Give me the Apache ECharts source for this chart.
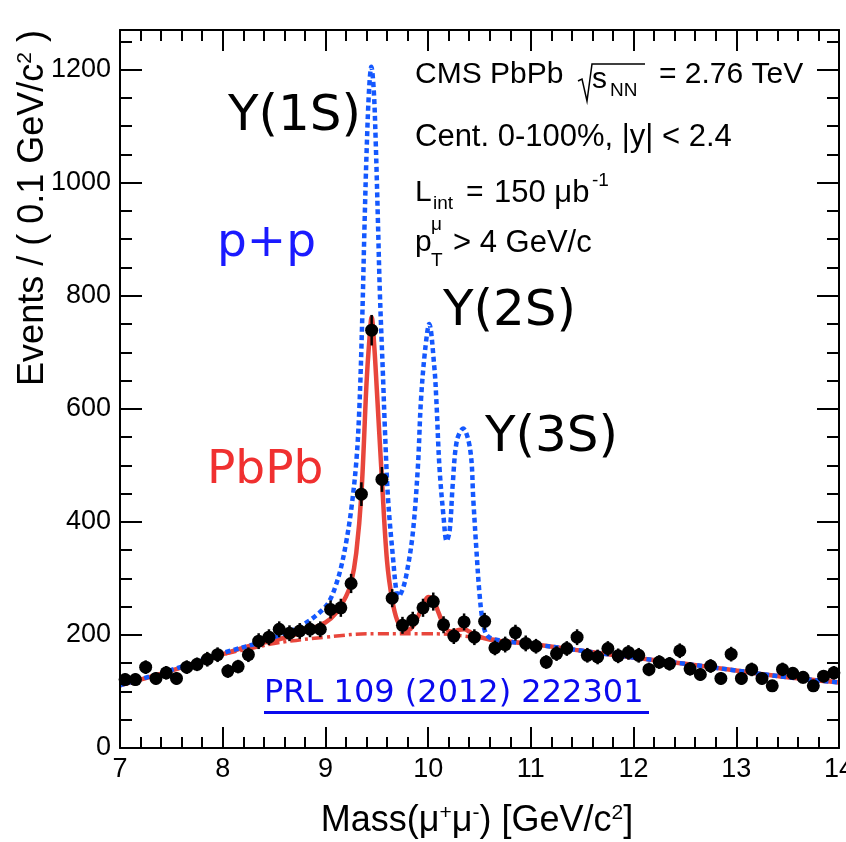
<!DOCTYPE html>
<html>
<head>
<meta charset="utf-8">
<script src="https://cdn.jsdelivr.net/npm/echarts@6/dist/echarts.min.js"></script>
<style>
html,body{margin:0;padding:0;background:#fff;}
#chart{width:846px;height:842px;}
</style>
</head>
<body>
<div id="chart"></div>
<script>
// Bin centres (GeV/c^2), PbPb data counts and their errors
const binCenters = [7.05,7.15,7.25,7.35,7.45,7.55,7.65,7.75,7.85,7.95,
  8.05,8.15,8.25,8.35,8.45,8.55,8.65,8.75,8.85,8.95,
  9.05,9.15,9.25,9.35,9.45,9.55,9.65,9.75,9.85,9.95,
  10.05,10.15,10.25,10.35,10.45,10.55,10.65,10.75,10.85,10.95,
  11.05,11.15,11.25,11.35,11.45,11.55,11.65,11.75,11.85,11.95,
  12.05,12.15,12.25,12.35,12.45,12.55,12.65,12.75,12.85,12.95,
  13.05,13.15,13.25,13.35,13.45,13.55,13.65,13.75,13.85,13.95];
const counts = [121,121,143,123,133,123,143,148,157,165,
  136,144,165,189,196,210,203,207,210,210,
  245,248,291,449,739,475,265,217,226,248,
  259,218,198,223,196,224,177,183,204,185,
  180,152,167,176,196,164,161,176,163,169,
  164,139,152,149,172,140,130,145,123,166,
  123,139,123,110,139,132,125,110,127,133];
const errors = [11,11,12,11,12,11,12,12,13,13,
  12,12,13,14,14,14,14,14,14,14,
  16,16,17,21,27,22,16,15,15,16,
  16,15,14,15,14,15,13,14,14,14,
  13,12,13,13,14,13,13,13,13,13,
  13,12,12,12,13,12,11,12,11,13,
  11,12,11,10,12,11,11,10,11,12];

// Background (dash-dot)
const bgX = [7.0,7.5,8.0,8.35,8.5,9.0,9.5,10.0,10.5,11.0,11.5,12.0,12.5,13.0,13.5,14.0];
const bgY = [111,137,165,179,185,196,202,202,195,184,172,160,149,137,125,116];

// PbPb fit (solid red)
const fitX = [7.0,7.5,8.0,8.35,8.5,8.75,9.0,9.1,9.2,9.25,9.3,9.35,9.4,9.425,9.45,9.475,9.5,9.55,9.6,9.65,9.7,9.75,9.8,9.85,9.9,9.95,10.0,10.05,10.1,10.15,10.2,10.25,10.3,10.35,10.4,10.45,10.55,10.65,11.0,11.5,12.0,12.5,13.0,13.5,14.0];
const fitY = [111,137,166,185,190,203,222,238,268,292,345,449,645,715,762,712,635,475,330,262,225,212,208,215,232,252,267,262,240,218,207,206,209,210,206,200,194,190,184,172,160,149,137,125,116];

// p+p shape (dotted blue)
const ppX = [7.0,7.5,8.0,8.35,8.5,8.7,8.8,8.9,9.0,9.05,9.1,9.15,9.2,9.25,9.3,9.33,9.36,9.38,9.4,9.425,9.447,9.47,9.49,9.51,9.53,9.56,9.58,9.61,9.66,9.69,9.71,9.75,9.79,9.85,9.9,9.93,9.97,10.01,10.06,10.08,10.11,10.15,10.18,10.21,10.24,10.28,10.34,10.41,10.44,10.47,10.5,10.53,10.57,10.65,11.0,11.5,12.0,12.5,13.0,13.5,14.0];
const ppY = [111,138,168,186,196,210,220,233,250,264,287,318,362,420,505,600,770,920,1050,1165,1205,1165,1070,940,805,660,560,440,332,278,268,280,308,379,497,615,703,750,674,615,497,409,366,385,468,544,565,527,438,350,273,226,200,192,184,172,160,149,137,125,116];

const xTicks = {min:7, max:14, interval:1};
const yTicks = {min:0, max:1270, interval:200};

const chart = echarts.init(document.getElementById('chart'), null, {renderer:'canvas'});
const zip = (a,b) => a.map((v,i)=>[v,b[i]]);
const LS = 'Liberation Sans, Arial, Helvetica, sans-serif';
const DV = 'DejaVu Sans, sans-serif';

function axisCommon(pos, showLabels, isX){
  return {
    type:'value', position: pos,
    min: isX?xTicks.min:yTicks.min, max: isX?xTicks.max:yTicks.max, interval: isX?xTicks.interval:yTicks.interval,
    axisLine:{show:true, onZero:false, lineStyle:{color:'#000', width:2}},
    axisTick:{show:true, inside:true, length: isX?21:22, lineStyle:{color:'#000', width:2}},
    minorTick:{show:true, splitNumber: isX?5:4, length: isX?11:12, lineStyle:{color:'#000', width:2}},
    splitLine:{show:false}, minorSplitLine:{show:false},
    axisLabel:{show:showLabels, color:'#000', fontFamily:LS, fontSize:27, margin: isX?8:9,
      showMaxLabel: isX?true:false, formatter: v => String(v)},
    z: 10
  };
}

const text = (x,y,str,size,font,color,extra) => Object.assign({
  type:'text', x:x, y:y, z:20,
  style:{text:str, fontSize:size, fontFamily:font, fill:color||'#000', align:'left', verticalAlign:'middle'}
}, extra||{});

const option = {
  animation:false,
  backgroundColor:'#fff',
  grid:{left:120, right:7, top:30, bottom:94, containLabel:false, outerBoundsMode:'none'},
  xAxis:[axisCommon('bottom', true, true), axisCommon('top', false, true)],
  yAxis:[axisCommon('left', true, false), axisCommon('right', false, false)],
  series:[
    {type:'line', data: zip(bgX,bgY), smooth:0.5, showSymbol:false, symbol:'none',
     lineStyle:{color:'#e8463c', width:3.5, type:[11,4,3,4]}, z:2, clip:true},
    {type:'line', data: zip(fitX,fitY), smooth:0.35, showSymbol:false, symbol:'none',
     lineStyle:{color:'#e8463c', width:4.5}, z:3, clip:true},
    {type:'line', data: zip(ppX,ppY), smooth:0.35, showSymbol:false, symbol:'none',
     lineStyle:{color:'#1458ff', width:4.5, type:[5,3.5]}, z:4, clip:true},
    {type:'custom', data: binCenters.map((x,i)=>[x,counts[i],errors[i]]), encode:{x:0,y:1}, z:5,
     renderItem:function(params, api){
       const x=api.value(0), y=api.value(1), e=api.value(2);
       const p1=api.coord([x,y-e]), p2=api.coord([x,y+e]);
       return {type:'line', shape:{x1:p1[0],y1:p1[1],x2:p2[0],y2:p2[1]}, style:{stroke:'#000', lineWidth:2.5}};
     }},
    {type:'scatter', data: zip(binCenters,counts), symbol:'circle', symbolSize:13,
     itemStyle:{color:'#000', opacity:1}, z:6}
  ],
  graphic:[
    text(228, 117.5, 'Y(1S)', 50, DV, '#000'),
    text(443, 312.5, 'Y(2S)', 50, DV, '#000'),
    text(485, 438.5, 'Y(3S)', 50, DV, '#000'),
    text(217, 243.5, 'p+p', 47, DV, '#1a1aff'),
    text(207, 470.5, 'PbPb', 47, DV, '#f03030'),
    // CMS block
    text(415, 75, 'CMS PbPb', 30, LS),
    {type:'polyline', z:20, shape:{points:[[578,81],[582,79],[587,101],[592,64],[645,64]]}, style:{stroke:'#000', lineWidth:1.5, fill:null}},
    text(592, 80, 's', 30, LS),
    text(610, 91, 'NN', 19, LS),
    text(659, 75, '= 2.76 TeV', 30, LS),
    text(415, 137, 'Cent. 0-100%, |y| < 2.4', 31, LS),
    text(415, 193, 'L', 30, LS),
    text(433, 204, 'int', 19, LS),
    text(466, 193, '=', 30, LS),
    text(494, 193, '150 \u03bcb', 31, LS),
    text(592, 181, '-1', 19, LS),
    text(415, 243, 'p', 30, LS),
    text(431, 225, '\u03bc', 19, LS),
    text(431, 261, 'T', 19, LS),
    text(453, 243, '> 4 GeV/c', 31, LS),
    // PRL reference
    text(264, 694, 'PRL 109 (2012) 222301', 32, DV, '#0a0aee'),
    {type:'rect', z:20, shape:{x:264, y:711, width:385, height:3}, style:{fill:'#0a0aee'}},
    // X title
    {type:'text', x:477, y:821, z:20, style:{
      text:'Mass(\u03bc{sup|+}\u03bc{sup|-}) [GeV/c{sup|2}]',
      fontSize:36, fontFamily:LS, fill:'#000', align:'center', verticalAlign:'middle',
      rich:{sup:{fontSize:21, fontFamily:LS, fill:'#000', verticalAlign:'top'}}
    }},
    // Y title
    {type:'text', x:33, y:208, rotation:Math.PI/2, z:20, style:{
      text:'Events / ( 0.1 GeV/c{sup|2} )',
      fontSize:36, fontFamily:LS, fill:'#000', align:'center', verticalAlign:'middle',
      rich:{sup:{fontSize:21, fontFamily:LS, fill:'#000', verticalAlign:'top'}}
    }}
  ]
};
chart.setOption(option);
</script>
</body>
</html>
